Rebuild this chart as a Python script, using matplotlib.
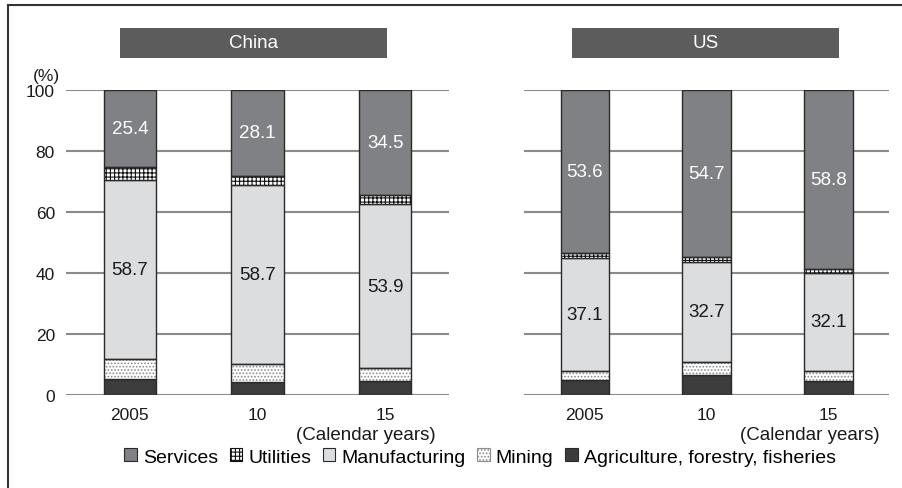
import numpy as np
import matplotlib.pyplot as plt
from matplotlib.patches import Rectangle, Patch
from matplotlib.lines import Line2D

plt.rcParams['font.family'] = ['Liberation Sans', 'DejaVu Sans']
plt.rcParams['hatch.linewidth'] = 0.8

years = ['2005', '10', '15']
sectors = ['Services', 'Utilities', 'Manufacturing', 'Mining',
           'Agriculture, forestry, fisheries']

# shares in %, bottom to top: agriculture, mining, manufacturing, utilities, services
china_agri = [5.2, 4.4, 4.5]
china_mining = [6.5, 5.8, 4.2]
china_manuf = [58.7, 58.7, 53.9]
china_util = [4.2, 3.0, 2.9]
china_serv = [25.4, 28.1, 34.5]

us_agri = [4.9, 6.4, 4.6]
us_mining = [2.9, 4.5, 3.3]
us_manuf = [37.1, 32.7, 32.1]
us_util = [1.5, 1.7, 1.2]
us_serv = [53.6, 54.7, 58.8]

SERV_C = '#808184'
MANUF_C = '#dcdddf'
AGRI_C = '#3c3c3c'
EDGE_C = '#2a2a2a'
GRID_C = '#8a8a8a'
TEXT_C = '#1a1a1a'


def draw_panel(ax, agri, mining, manuf, util, serv, width):
    x = np.arange(len(years))
    bottom = np.zeros(len(years))
    layers = [
        (agri, dict(color=AGRI_C)),
        (mining, dict(color='white', hatch='.....', hatch_c='#8c8c8c')),
        (manuf, dict(color=MANUF_C)),
        (util, dict(color='white', hatch='++++', hatch_c='#111111')),
        (serv, dict(color=SERV_C)),
    ]
    for vals, st in layers:
        vals = np.array(vals)
        if 'hatch' in st:
            ax.bar(x, vals, width, bottom=bottom, color=st['color'],
                   edgecolor=st['hatch_c'], hatch=st['hatch'], linewidth=0,
                   zorder=3)
            ax.bar(x, vals, width, bottom=bottom, fill=False,
                   edgecolor=EDGE_C, linewidth=1.0, zorder=4)
        else:
            ax.bar(x, vals, width, bottom=bottom, color=st['color'],
                   edgecolor=EDGE_C, linewidth=1.0, zorder=3)
        bottom += vals

    # value labels for manufacturing and services
    m_bot = np.array(agri) + np.array(mining)
    for i in range(len(years)):
        ax.text(x[i], m_bot[i] + manuf[i] / 2, f'{manuf[i]:.1f}',
                ha='center', va='center', fontsize=13.5, color=TEXT_C,
                zorder=5)
        ax.text(x[i], 100 - serv[i] / 2, f'{serv[i]:.1f}',
                ha='center', va='center', fontsize=13.5, color='white',
                zorder=5)

    ax.set_xlim(-0.5, 2.5)
    ax.set_ylim(0, 100)
    ax.set_yticks(np.arange(0, 101, 20))
    ax.set_xticks(x)
    ax.set_xticklabels(years)
    ax.yaxis.grid(True, color=GRID_C, linewidth=1.5, zorder=0)
    ax.set_axisbelow(True)
    for s in ax.spines.values():
        s.set_visible(False)
    ax.tick_params(axis='both', length=0, labelsize=12.5, colors=TEXT_C)
    ax.tick_params(axis='x', pad=9)
    ax.text(0.783, -0.13, '(Calendar years)', transform=ax.transAxes,
            ha='center', va='center', fontsize=13.5, color=TEXT_C)


fig = plt.figure(figsize=(9.02, 4.89), dpi=100)
W, H = 902, 489

ax1 = fig.add_axes([66 / W, 1 - 396 / H, 383 / W, 305 / H])
ax2 = fig.add_axes([524 / W, 1 - 396 / H, 365 / W, 305 / H])

draw_panel(ax1, china_agri, china_mining, china_manuf, china_util, china_serv, 0.41)
draw_panel(ax2, us_agri, us_mining, us_manuf, us_util, us_serv, 0.40)
ax1.tick_params(axis='y', pad=8)
ax2.set_yticklabels([])

# panel headers
for (x0, x1, name) in [(120, 387, 'China'), (572, 839, 'US')]:
    fig.add_artist(Rectangle((x0 / W, 1 - 59 / H), (x1 - x0) / W, 30 / H,
                             transform=fig.transFigure, facecolor='#5c5c5c',
                             edgecolor='none'))
    fig.text((x0 + x1) / 2 / W, 1 - 44 / H, name, ha='center', va='center',
             fontsize=13.5, color='white')

fig.text(46 / W, 1 - 77 / H, '(%)', ha='center', va='center', fontsize=12.5,
         color=TEXT_C)

# outer frame (left and top)
fig.add_artist(Line2D([8 / W, 8 / W], [0, 1 - 6 / H], transform=fig.transFigure,
                      color='#333333', linewidth=1.5))
fig.add_artist(Line2D([8 / W, 1], [1 - 6 / H, 1 - 6 / H], transform=fig.transFigure,
                      color='#333333', linewidth=1.5))

handles = [
    Patch(facecolor=SERV_C, edgecolor=EDGE_C, linewidth=0.8),
    Patch(facecolor='white', edgecolor='#111111', hatch='++++', linewidth=0.8),
    Patch(facecolor=MANUF_C, edgecolor=EDGE_C, linewidth=0.8),
    Patch(facecolor='white', edgecolor='#8c8c8c', hatch='.....', linewidth=0.8),
    Patch(facecolor=AGRI_C, edgecolor=EDGE_C, linewidth=0.8),
]
fig.legend(handles, sectors, loc='center', bbox_to_anchor=(480 / W, 1 - 458 / H),
           ncol=5, frameon=False, fontsize=14, handlelength=0.65, handleheight=0.65,
           handletextpad=0.3, columnspacing=0.6, borderaxespad=0)

fig.savefig('out.png', dpi=100)
